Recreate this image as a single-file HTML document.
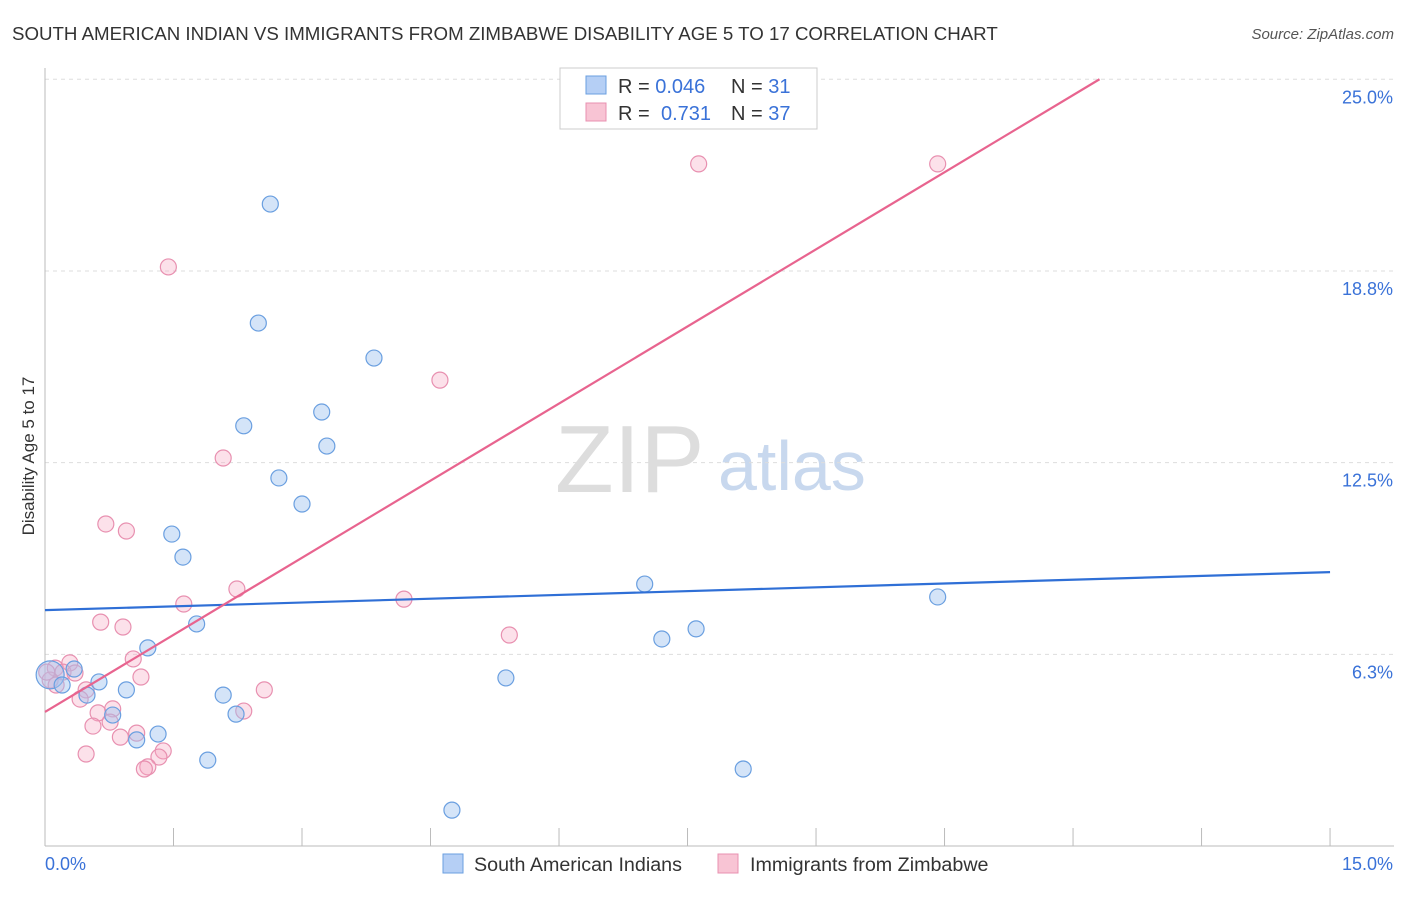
<!DOCTYPE html>
<html><head><meta charset="utf-8"><style>
body{margin:0;background:#fff;font-family:"Liberation Sans",sans-serif;}
svg text{font-family:"Liberation Sans",sans-serif;}
</style></head><body>
<svg width="1406" height="892" id="chart">
<text x="12" y="40" font-size="18.7" fill="#333">SOUTH AMERICAN INDIAN VS IMMIGRANTS FROM ZIMBABWE DISABILITY AGE 5 TO 17 CORRELATION CHART</text>
<text x="1394" y="39" font-size="15" fill="#555" font-style="italic" text-anchor="end">Source: ZipAtlas.com</text>
<text x="34" y="456" font-size="17" fill="#333" text-anchor="middle" transform="rotate(-90 34 456)">Disability Age 5 to 17</text>
<text x="555" y="492" font-size="96" fill="#ddd" font-family="Liberation Serif">ZIP</text>
<text x="718" y="490" font-size="70" fill="#c8d8ee">atlas</text>
<g id="grid"></g><g id="marks"></g>
<g>
<rect x="560" y="68" width="257" height="61" fill="#fff" stroke="#ccc"/>
<rect x="586" y="76" width="20" height="18" fill="#b5cff5" stroke="#6a9fe0"/>
<rect x="586" y="103" width="20" height="18" fill="#f8c4d4" stroke="#e890b0"/>
<text x="618" y="93" font-size="20" fill="#333">R = <tspan fill="#3a72d8">0.046</tspan><tspan x="731">N = </tspan><tspan fill="#3a72d8">31</tspan></text>
<text x="618" y="120" font-size="20" fill="#333">R = <tspan x="661" fill="#3a72d8">0.731</tspan><tspan x="731">N = </tspan><tspan fill="#3a72d8">37</tspan></text>
</g>
<g>
<rect x="443" y="854" width="20" height="19" fill="#b5cff5" stroke="#6a9fe0"/>
<text x="474" y="871" font-size="19.7" fill="#333">South American Indians</text>
<rect x="718" y="854" width="20" height="19" fill="#f8c4d4" stroke="#e890b0"/>
<text x="750" y="871" font-size="19.7" fill="#333">Immigrants from Zimbabwe</text>
</g>
</svg>
<script>
const xTicks=[0,1.5,3,4.5,6,7.5,9,10.5,12,13.5,15];
const yTicks=[6.25,12.5,18.75,25];
const yTickLabels=["6.3%","12.5%","18.8%","25.0%"];
const blueX=[2.63,2.49,3.84,3.23,2.32,3.29,2.73,3.00,1.48,1.61,7.00,10.42,1.77,7.60,7.20,1.20,0.34,0.63,0.06,0.20,0.95,0.49,2.08,5.38,0.79,2.23,1.32,1.07,1.90,8.15,4.75];
const blueY=[20.93,17.05,15.91,14.15,13.70,13.04,12.00,11.15,10.17,9.42,8.54,8.12,7.24,7.08,6.75,6.46,5.77,5.35,5.58,5.25,5.09,4.92,4.92,5.48,4.27,4.30,3.65,3.46,2.80,2.51,1.17];
const pinkX=[7.63,10.42,1.44,4.61,2.08,0.71,0.95,2.24,1.62,4.19,0.65,0.91,5.42,1.03,0.29,0.12,0.21,0.35,0.06,1.12,2.56,0.48,0.41,2.32,0.79,0.62,0.76,0.56,1.07,0.88,1.38,1.33,0.48,1.20,1.16,0.13,0.02];
const pinkY=[22.24,22.24,18.88,15.19,12.65,10.50,10.27,8.38,7.89,8.05,7.30,7.14,6.88,6.10,5.97,5.80,5.67,5.64,5.41,5.51,5.09,5.09,4.79,4.40,4.47,4.34,4.04,3.91,3.68,3.55,3.10,2.90,3.00,2.58,2.51,5.25,5.67];
const blueLine=[7.69,0.0827];
const pinkLine=[4.37,1.676];
const NS="http://www.w3.org/2000/svg";
const X=v=>45+v*85.67, Y=v=>846-v*30.67;
function mk(tag,attrs,parent){const e=document.createElementNS(NS,tag);for(const k in attrs)e.setAttribute(k,attrs[k]);parent.appendChild(e);return e;}
const grid=document.getElementById('grid'), marks=document.getElementById('marks');
yTicks.forEach((t,i)=>{
 const l=mk('line',{x1:45,x2:1394,y1:Y(t),y2:Y(t),stroke:'#ddd','stroke-dasharray':'4 4'},grid);
 
 
 const tx=mk('text',{x:1393,y:Y(t)+24,'font-size':18,fill:'#3a72d8','text-anchor':'end'},grid);tx.textContent=yTickLabels[i];
 
 
});
const ax=mk('line',{x1:45,x2:1394,y1:846,y2:846,stroke:'#bbb'},grid);


const ay=mk('line',{x1:45,x2:45,y1:68,y2:846,stroke:'#bbb'},grid);


xTicks.forEach(t=>{const l=mk('line',{x1:X(t),x2:X(t),y1:828,y2:846,stroke:'#bbb'},grid);
 
 });
[[0,'0.0%','start',45],[15,'15.0%','end',1393]].forEach(a=>{const t=mk('text',{x:a[3],y:870,'font-size':18,fill:'#3a72d8','text-anchor':a[2]},grid);t.textContent=a[1];
 
 });
function dots(xs,ys,fill,stroke,name){xs.forEach((x,i)=>{const c=mk('circle',{cx:X(x),cy:Y(ys[i]),r:(i===18&&name==='blue-point')?14:8,fill:fill,stroke:stroke,'stroke-width':1.2},marks);
 
 });}
dots(pinkX,pinkY,'rgba(245,170,195,0.35)','#e890b0','pink-point');
dots(blueX,blueY,'rgba(160,195,240,0.45)','#6a9fe0','blue-point');
const bl=mk('line',{x1:X(0),y1:Y(blueLine[0]),x2:X(15),y2:Y(blueLine[0]+15*blueLine[1]),stroke:'#2f6fd6','stroke-width':2.2},marks);


const xe=(25-pinkLine[0])/pinkLine[1];
const pl=mk('line',{x1:X(0),y1:Y(pinkLine[0]),x2:X(xe),y2:Y(pinkLine[0]+xe*pinkLine[1]),stroke:'#e8648f','stroke-width':2.2},marks);


</script>
</body></html>
